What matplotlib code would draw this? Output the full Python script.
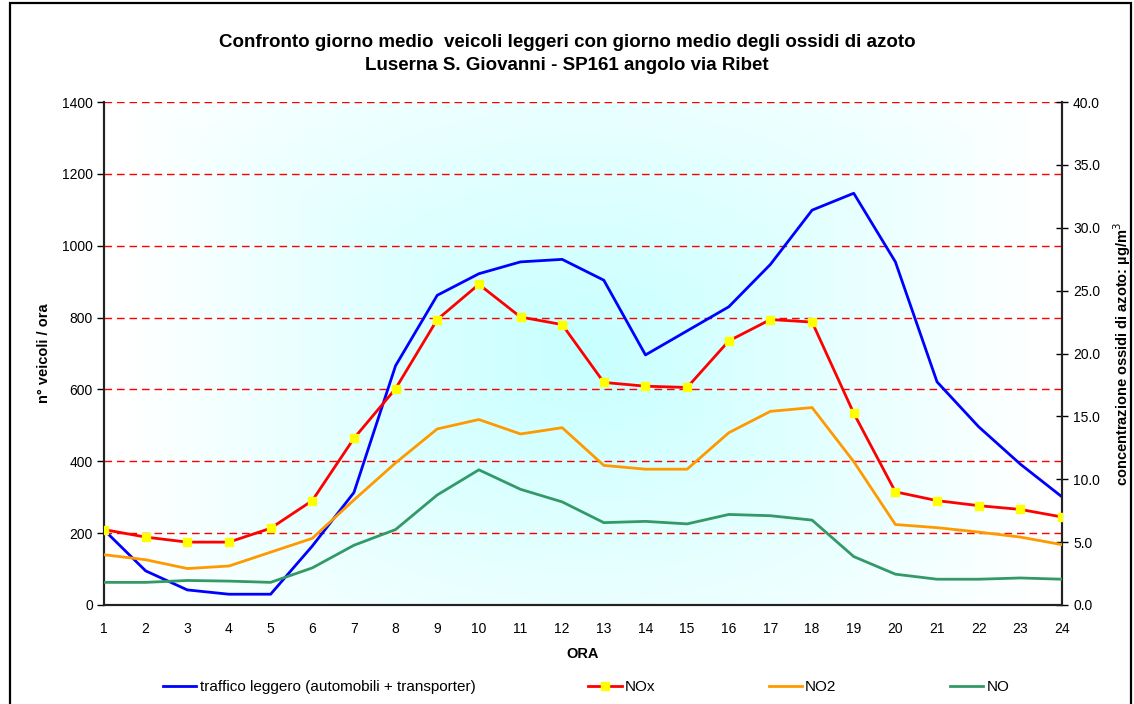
import numpy as np
import matplotlib
matplotlib.use("Agg")
import matplotlib.pyplot as plt
from matplotlib.patches import Rectangle
from matplotlib.ticker import FormatStrFormatter

plt.rcParams['font.family'] = ['Liberation Sans', 'DejaVu Sans']

# data
ore = list(range(1, 25))
traffico = [209, 95, 42, 30, 30, 164, 313, 666, 862, 922, 955, 962, 904, 696,
            763, 830, 948, 1099, 1146, 955, 621, 496, 392, 301]
nox = [6.0, 5.4, 5.0, 5.0, 6.1, 8.3, 13.25, 17.2, 22.7, 25.5, 22.9, 22.3, 17.7, 17.4,
       17.3, 21.0, 22.7, 22.5, 15.25, 9.0, 8.3, 7.9, 7.6, 7.0]
no2 = [4.0, 3.6, 2.9, 3.1, 4.2, 5.3, 8.35, 11.3, 14.0, 14.75, 13.6, 14.1, 11.1, 10.8,
       10.8, 13.7, 15.4, 15.7, 11.4, 6.4, 6.15, 5.8, 5.4, 4.8]
no = [1.8, 1.8, 1.95, 1.9, 1.8, 2.95, 4.75, 6.0, 8.75, 10.75, 9.2, 8.2, 6.55, 6.65,
      6.45, 7.2, 7.1, 6.75, 3.85, 2.45, 2.05, 2.05, 2.15, 2.05]

titolo = ("Confronto giorno medio  veicoli leggeri con giorno medio degli ossidi di azoto\n"
          "Luserna S. Giovanni - SP161 angolo via Ribet")

fig = plt.figure(figsize=(11.34, 7.04), dpi=100)
fig.patch.set_facecolor('white')
ax = fig.add_axes([104 / 1134, 99 / 704, 958 / 1134, 503 / 704])
ax2 = ax.twinx()

# background gradient (cyan in the middle, white towards the edges)
nx, ny = 400, 250
gx, gy = np.meshgrid(np.linspace(-1, 1, nx), np.linspace(-1, 1, ny))
t = np.clip(np.maximum(np.abs(gx) / 1.0, np.abs(gy) / 1.05), 0, 1)
t = np.sqrt(gx ** 2 * 0.6 + t ** 2 * 0.4)
t = np.clip(t * 1.05, 0, 1)
c0 = np.array([0.78, 1.0, 1.0])
c1 = np.array([1.0, 1.0, 1.0])
img = c0[None, None, :] * (1 - t[..., None]) + c1[None, None, :] * t[..., None]
ax.imshow(img, extent=[0, 1, 0, 1], transform=ax.transAxes, aspect='auto',
          zorder=0, interpolation='bilinear')

# gridlines
for v in range(200, 1401, 200):
    ax.axhline(v, color='red', lw=1, linestyle=(0, (5.5, 3.5)), zorder=1)

ax.plot(ore, traffico, color='#0000FF', lw=2, zorder=3,
        label='traffico leggero (automobili + transporter)')
ax2.plot(ore, nox, color='#FF0000', lw=2, marker='s', markersize=5.5,
         markerfacecolor='#FFFF00', markeredgecolor='#FFFF00', zorder=4, label='NOx')
ax2.plot(ore, no2, color='#FF9900', lw=2, zorder=3, label='NO2')
ax2.plot(ore, no, color='#339966', lw=2, zorder=3, label='NO')

ax.set_xlim(1, 24)
ax.set_ylim(0, 1400)
ax2.set_ylim(0, 40)
ax.set_xticks(ore)
ax.set_yticks(range(0, 1401, 200))
ax2.set_yticks(np.arange(0, 40.1, 5))
ax2.yaxis.set_major_formatter(FormatStrFormatter('%.1f'))

ax.tick_params(axis='y', direction='out', length=5, width=1, labelsize=10, pad=3)
ax.tick_params(axis='x', length=0, labelsize=10, pad=12)
ax2.tick_params(axis='y', direction='inout', length=8, width=1, labelsize=10, pad=4)

for a in (ax, ax2):
    a.spines['top'].set_visible(False)
    for s in ('left', 'right', 'bottom'):
        a.spines[s].set_color('#222222')
        a.spines[s].set_linewidth(1.5)

ax.set_xlabel('ORA', fontsize=10.5, fontweight='bold', labelpad=8)
ax.set_ylabel('n° veicoli / ora', fontsize=10.5, fontweight='bold', labelpad=8)
ax2.set_ylabel('concentrazione ossidi di azoto: µg/m$^3$', fontsize=10.5,
               fontweight='bold', labelpad=8)

fig.text(0.5, 1 - 54 / 704, titolo, ha='center', va='center', fontsize=13.5,
         fontweight='bold', linespacing=1.45)

h1, l1 = ax.get_legend_handles_labels()
h2, l2 = ax2.get_legend_handles_labels()
fig.legend(h1 + h2, l1 + l2, loc='center', bbox_to_anchor=(586 / 1134, 1 - 687 / 704),
           ncol=4, frameon=False, fontsize=11, handlelength=2.2, handletextpad=0.2,
           columnspacing=7.4, numpoints=1)

# outer frame of the chart
fig.patches.append(Rectangle((10 / 1134, -0.02), 1121 / 1134, 1.0 + 0.02 - 3 / 704,
                             transform=fig.transFigure, fill=False,
                             edgecolor='black', lw=1.6))

fig.savefig('out.png', dpi=100)
